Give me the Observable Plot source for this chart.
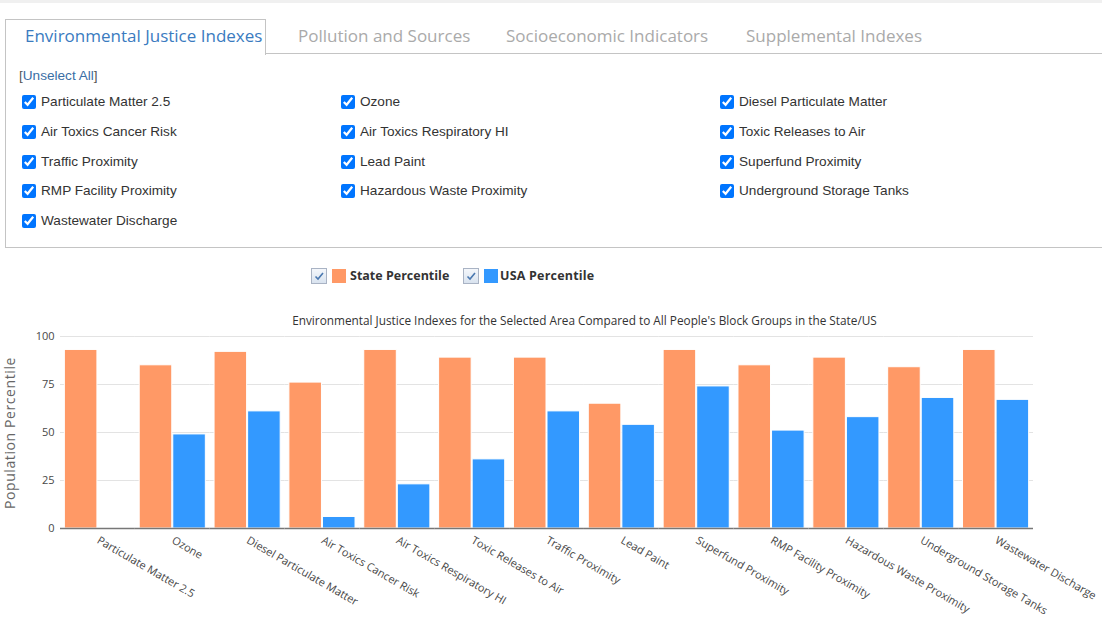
<!DOCTYPE html>
<html>
<head>
<meta charset="utf-8">
<script src="https://cdn.jsdelivr.net/npm/d3@7"></script>
<script src="https://cdn.jsdelivr.net/npm/@observablehq/plot@0.6"></script>
<style>
  body { margin:0; background:#fff; width:1102px; height:621px; overflow:hidden; position:relative; font-family:"Open Sans", sans-serif; }
  .abs { position:absolute; }
  .tabtxt { font-size:17px; line-height:20px; top:26px; white-space:nowrap; color:#aaa; }
  .cb { position:absolute; display:flex; align-items:center; font-family:"Liberation Sans", Arial, sans-serif; font-size:13.6px; color:#333; white-space:nowrap; }
  .cb input { width:14px; height:14px; margin:0 5px 0 0; }
  .lgbox { position:absolute; width:14px; height:14px; border:1px solid #a9b3c4; background:linear-gradient(#f4f7fb,#d9e3ef); }
  .lgsw { position:absolute; width:14px; height:14px; }
  .lgtxt { position:absolute; font-size:12.5px; font-weight:bold; color:#333; white-space:nowrap; line-height:16px; }
</style>
</head>
<body>
<div class="abs" style="left:0;top:0;width:1102px;height:3px;background:#f0f0f0"></div>
<div class="abs" style="left:5px;top:19px;width:259px;height:35px;border:1px solid #c4c4c4;border-bottom:none;background:#fff"></div>
<div class="abs" style="left:265px;top:53px;width:837px;height:1px;background:#c4c4c4"></div>
<div class="abs" style="left:5px;top:54px;width:1100px;height:193px;border-left:1px solid #c4c4c4;border-right:1px solid #c4c4c4;border-bottom:1px solid #c4c4c4"></div>
<div class="abs tabtxt" style="left:25px;color:#3a7bbf">Environmental Justice Indexes</div>
<div class="abs tabtxt" style="left:298px">Pollution and Sources</div>
<div class="abs tabtxt" style="left:506px">Socioeconomic Indicators</div>
<div class="abs tabtxt" style="left:746px">Supplemental Indexes</div>
<div class="abs" style="left:19px;top:68px;font-family:'Liberation Sans',Arial,sans-serif;font-size:13.6px;color:#555;white-space:nowrap">[<span style="color:#3a6ea5">Unselect All</span>]</div>
<div id="checks"></div>

<div class="lgbox" style="left:311px;top:268px"><svg width="14" height="14" style="position:absolute;left:0;top:0"><path d="M3.5 7.5 L6 10 L11 4" fill="none" stroke="#4a78b0" stroke-width="1.6"/></svg></div>
<div class="lgsw" style="left:332px;top:269px;background:#ff9966"></div>
<div class="lgtxt" style="left:350px;top:268px">State Percentile</div>
<div class="lgbox" style="left:463px;top:268px"><svg width="14" height="14" style="position:absolute;left:0;top:0"><path d="M3.5 7.5 L6 10 L11 4" fill="none" stroke="#4a78b0" stroke-width="1.6"/></svg></div>
<div class="lgsw" style="left:484px;top:269px;background:#3399ff"></div>
<div class="lgtxt" style="left:500px;top:268px;letter-spacing:0.2px">USA Percentile</div>

<div class="abs" style="left:84.5px;top:312px;width:1000px;text-align:center;font-size:11.8px;color:#333;white-space:nowrap">Environmental Justice Indexes for the Selected Area Compared to All People's Block Groups in the State/US</div>
<div class="abs" style="left:-90px;top:423px;width:200px;text-align:center;font-size:14px;line-height:20px;letter-spacing:0.6px;color:#666;transform:rotate(-90deg);white-space:nowrap">Population Percentile</div>
<div id="chart" class="abs" style="left:0;top:300px"></div>

<script>
// ---- data ----
const categories = [
  "Particulate Matter 2.5", "Ozone", "Diesel Particulate Matter", "Air Toxics Cancer Risk",
  "Air Toxics Respiratory HI", "Toxic Releases to Air", "Traffic Proximity", "Lead Paint",
  "Superfund Proximity", "RMP Facility Proximity", "Hazardous Waste Proximity",
  "Underground Storage Tanks", "Wastewater Discharge"
];
const stateValues = [93, 85, 92, 76, 93, 89, 89, 65, 93, 85, 89, 84, 93];
const usaValues   = [null, 49, 61, 6, 23, 36, 61, 54, 74, 51, 58, 68, 67];
const seriesNames = ["State", "USA"];
const seriesColors = ["#ff9966", "#3399ff"];
const yTicks = [0, 25, 50, 75, 100];
const checkboxColumns = [
  ["Particulate Matter 2.5", "Air Toxics Cancer Risk", "Traffic Proximity", "RMP Facility Proximity", "Wastewater Discharge"],
  ["Ozone", "Air Toxics Respiratory HI", "Lead Paint", "Hazardous Waste Proximity"],
  ["Diesel Particulate Matter", "Toxic Releases to Air", "Superfund Proximity", "Underground Storage Tanks"]
];

// checkbox panel
const colX = [22, 341, 720];
const rowY = [94, 124, 154, 183, 213];
const checks = document.getElementById("checks");
checkboxColumns.forEach((col, ci) => col.forEach((name, ri) => {
  const d = document.createElement("label");
  d.className = "cb";
  d.style.left = colX[ci] + "px";
  d.style.top = rowY[ri] + "px";
  d.innerHTML = '<input type="checkbox" checked>' + name;
  checks.appendChild(d);
}));

// ---- chart ----
const rows = categories.flatMap((c, i) => [
  {category: c, series: "State", value: stateValues[i]},
  {category: c, series: "USA", value: usaValues[i]}
]).filter(d => d.value != null);

const chart = Plot.plot({
  width: 1102,
  height: 321,
  marginTop: 36, marginBottom: 93, marginLeft: 60, marginRight: 69,
  style: {fontFamily: "Open Sans", fontSize: "11px", color: "#484848", background: "transparent", overflow: "visible"},
  facet: {data: rows, x: "category", marginTop: 36, marginBottom: 93, marginLeft: 60, marginRight: 69},
  fx: {domain: categories, padding: 0, round: false, tickRotate: 30, tickSize: 0, tickPadding: 11, label: null},
  x: {domain: seriesNames, paddingInner: 0.03, paddingOuter: 0.13, round: false, axis: null},
  y: {domain: [0, 100], ticks: yTicks, tickSize: 0, tickPadding: 6, label: null},
  color: {domain: seriesNames, range: seriesColors},
  marks: [
    Plot.ruleY(yTicks.filter(t => t > 0), {stroke: "#e3e3e3", strokeWidth: 1}),
    Plot.barY(rows, {x: "series", y: "value", fill: "series", stroke: "white", strokeWidth: 1}),
    Plot.ruleY([0], {stroke: "#777", strokeWidth: 1.5})
  ]
});
document.getElementById("chart").appendChild(chart);
</script>
</body>
</html>
